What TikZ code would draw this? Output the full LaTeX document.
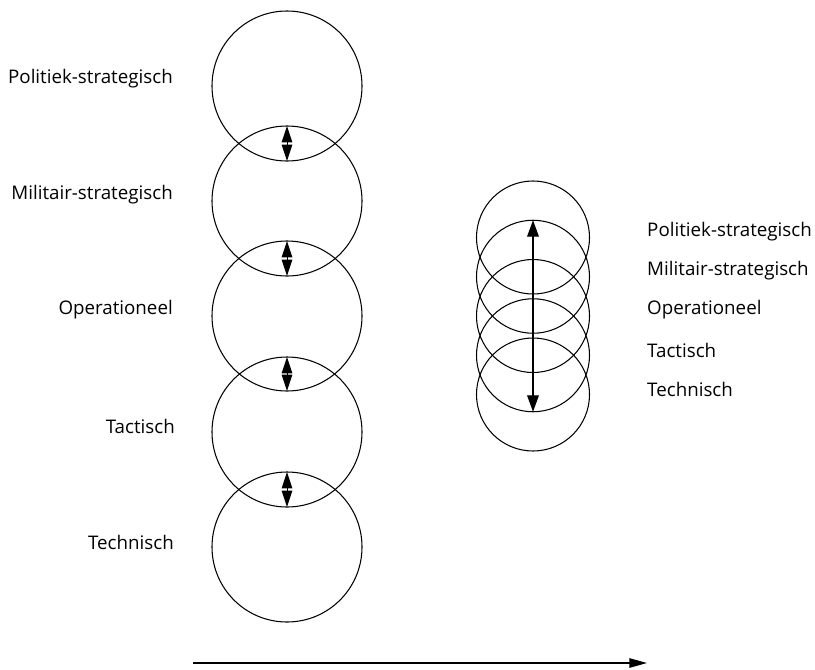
\documentclass[tikz,border=0pt]{standalone}
\usepackage{fontspec}
\setmainfont{Open Sans}
\usetikzlibrary{arrows.meta}
\begin{document}
\begin{tikzpicture}[x=.03cm,y=-.03cm]
    \tikzstyle{big} = [draw,circle,line width=.9pt,inner sep=0pt,outer sep=0pt,minimum size=4.5cm]
    \tikzstyle{small} = [draw,circle,line width=.9pt,inner sep=0pt,outer sep=0pt,minimum size=3.39cm]
    \tikzstyle{lbl} = [inner sep=0pt,font=\fontsize{16}{19}\selectfont]
    \tikzstyle{dbl} = [draw,line width=.8pt,{Triangle[length=14pt,width=9pt]}-{Triangle[length=14pt,width=9pt]}]
    \useasboundingbox (0,0) rectangle (815,669);
    %%
    \node[big] (c1) at (287,86) {};
    \node[big] (c2) at (287,201) {};
    \node[big] (c3) at (287,316) {};
    \node[big] (c4) at (287,432) {};
    \node[big] (c5) at (287,547) {};
    \node[lbl,anchor=east] (l1) at (173,79) {Politiek-strategisch};
    \node[lbl,anchor=east] (l2) at (173,195) {Militair-strategisch};
    \node[lbl,anchor=east] (l3) at (173,310) {Operationeel};
    \node[lbl,anchor=east] (l4) at (175,426) {Tactisch};
    \node[lbl,anchor=east] (l5) at (174,542) {Technisch};
    \path [dbl] (c2.north) -- (c1.south);
    \path [dbl] (c3.north) -- (c2.south);
    \path [dbl] (c4.north) -- (c3.south);
    \path [dbl] (c5.north) -- (c4.south);
    %%
    \node[small] (r1) at (533,237.5) {};
    \node[small] (r2) at (533,276.75) {};
    \node[small] (r3) at (533,316) {};
    \node[small] (r4) at (533,355.25) {};
    \node[small] (r5) at (533,394.5) {};
    \node[lbl,anchor=west] (k1) at (647,232) {Politiek-strategisch};
    \node[lbl,anchor=west] (k2) at (647,271) {Militair-strategisch};
    \node[lbl,anchor=west] (k3) at (647,310) {Operationeel};
    \node[lbl,anchor=west] (k4) at (647,350) {Tactisch};
    \node[lbl,anchor=west] (k5) at (647,389) {Technisch};
    \path [draw,line width=.9pt,{Triangle[length=14pt,width=10pt]}-{Triangle[length=14pt,width=10pt]}] (r2.north) -- (r4.south);
    %%
    \coordinate (a0) at (193,663);
    \coordinate (a1) at (647,663);
    \path [draw,line width=1.2pt,-{Triangle[length=15pt,width=8pt]}] (a0) -- (a1);
\end{tikzpicture}
\end{document}
